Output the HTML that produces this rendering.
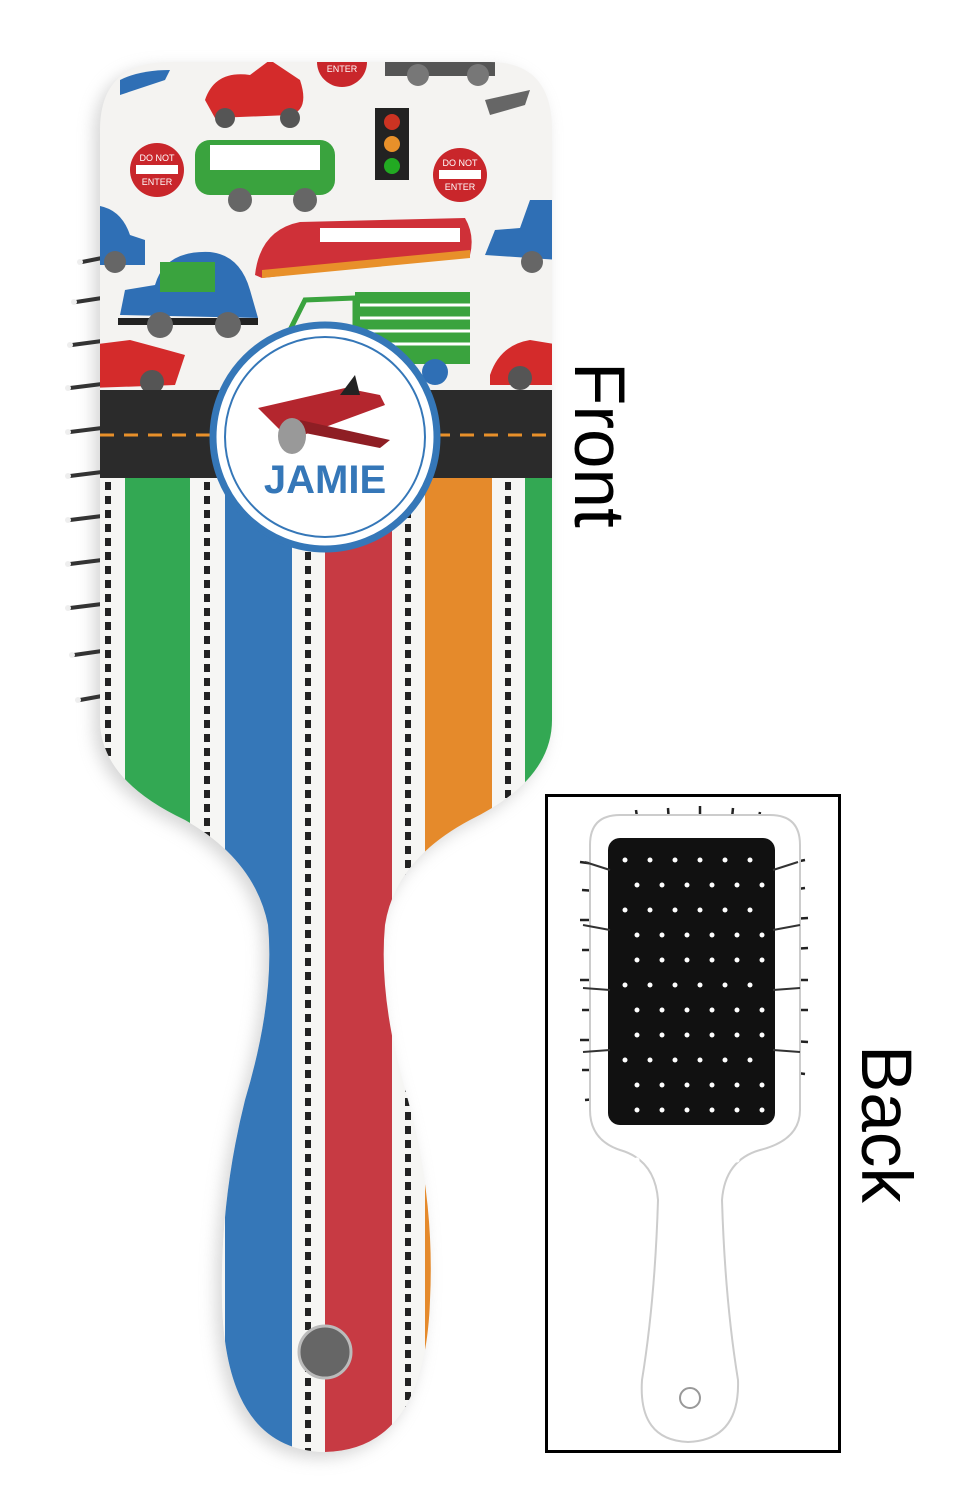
<!DOCTYPE html>
<html><head><meta charset="utf-8"><style>
html,body{margin:0;padding:0;background:#fff;}
svg{display:block;}
</style></head><body>
<svg width="975" height="1500" viewBox="0 0 975 1500" xmlns="http://www.w3.org/2000/svg">
<defs>
<clipPath id="fb"><path d="M100,130 Q100,62 170,62 L490,62 Q552,62 552,130 L552,720 Q552,780 470,820 Q395,860 385,925 Q378,1000 408,1100 Q435,1200 430,1300 Q425,1450 325,1452 Q225,1450 222,1300 Q220,1200 245,1100 Q275,1000 268,925 Q255,860 185,820 Q100,780 100,720 Z"/></clipPath>
<filter id="sh" x="-20%" y="-20%" width="140%" height="140%"><feGaussianBlur stdDeviation="8"/></filter>
</defs>
<path d="M100,130 Q100,62 170,62 L490,62 Q552,62 552,130 L552,720 Q552,780 470,820 Q395,860 385,925 Q378,1000 408,1100 Q435,1200 430,1300 Q425,1450 325,1452 Q225,1450 222,1300 Q220,1200 245,1100 Q275,1000 268,925 Q255,860 185,820 Q100,780 100,720 Z" fill="#bbb" opacity="0.6" filter="url(#sh)" transform="translate(-6,6)"/>
<g stroke="#333" stroke-width="4" stroke-linecap="round">
<line x1="82" y1="262" x2="102" y2="258"/><line x1="76" y1="302" x2="102" y2="298"/><line x1="72" y1="345" x2="102" y2="341"/><line x1="70" y1="388" x2="102" y2="384"/><line x1="70" y1="432" x2="102" y2="428"/><line x1="70" y1="476" x2="102" y2="472"/><line x1="70" y1="520" x2="102" y2="516"/><line x1="70" y1="564" x2="102" y2="560"/><line x1="70" y1="608" x2="102" y2="604"/><line x1="74" y1="655" x2="102" y2="651"/><line x1="80" y1="700" x2="102" y2="696"/>
</g>
<g fill="#eee"><circle cx="80" cy="262" r="3"/><circle cx="74" cy="302" r="3"/><circle cx="70" cy="345" r="3"/><circle cx="68" cy="388" r="3"/><circle cx="68" cy="432" r="3"/><circle cx="68" cy="476" r="3"/><circle cx="68" cy="520" r="3"/><circle cx="68" cy="564" r="3"/><circle cx="68" cy="608" r="3"/><circle cx="72" cy="655" r="3"/><circle cx="78" cy="700" r="3"/></g>
<g clip-path="url(#fb)">
<rect x="90" y="50" width="470" height="1410" fill="#f4f3f1"/>
<rect x="195" y="140" width="140" height="55" rx="15" fill="#3aa33e"/>
<rect x="210" y="145" width="110" height="25" fill="#fff"/>
<circle cx="240" cy="200" r="12" fill="#666"/><circle cx="305" cy="200" r="12" fill="#666"/>
<path d="M205,100 Q215,70 250,75 L270,60 L300,80 Q310,110 290,115 L215,118 Z" fill="#d42b2b"/>
<circle cx="225" cy="118" r="10" fill="#555"/><circle cx="290" cy="118" r="10" fill="#555"/>
<rect x="375" y="108" width="34" height="72" fill="#222"/>
<circle cx="392" cy="122" r="8" fill="#c32"/><circle cx="392" cy="144" r="8" fill="#e8902a"/><circle cx="392" cy="166" r="8" fill="#2a2"/>
<circle cx="157" cy="170" r="27" fill="#c9262b"/><rect x="136" y="165" width="42" height="9" fill="#fff"/>
<text x="157" y="161" font-family="Liberation Sans" font-size="9" fill="#fff" text-anchor="middle">DO NOT</text>
<text x="157" y="185" font-family="Liberation Sans" font-size="9" fill="#fff" text-anchor="middle">ENTER</text>
<circle cx="460" cy="175" r="27" fill="#c9262b"/><rect x="439" y="170" width="42" height="9" fill="#fff"/>
<text x="460" y="166" font-family="Liberation Sans" font-size="9" fill="#fff" text-anchor="middle">DO NOT</text>
<text x="460" y="190" font-family="Liberation Sans" font-size="9" fill="#fff" text-anchor="middle">ENTER</text>
<circle cx="342" cy="62" r="25" fill="#c9262b"/>
<text x="342" y="72" font-family="Liberation Sans" font-size="9" fill="#fff" text-anchor="middle">ENTER</text>
<rect x="385" y="62" width="110" height="14" fill="#555"/>
<circle cx="418" cy="75" r="11" fill="#777"/><circle cx="478" cy="75" r="11" fill="#777"/>
<path d="M255,275 Q260,230 300,222 L465,218 Q475,235 470,255 L262,278 Z" fill="#cf3038"/>
<rect x="320" y="228" width="140" height="14" fill="#fff"/>
<path d="M262,270 L470,250 L470,258 L262,278 Z" fill="#e8902a"/>
<path d="M120,315 L125,290 L155,285 Q165,250 210,252 Q240,255 250,290 L258,318 Z" fill="#2f6fb5"/>
<rect x="160" y="262" width="55" height="30" fill="#3aa33e"/>
<rect x="118" y="318" width="140" height="7" fill="#222"/>
<circle cx="160" cy="325" r="13" fill="#666"/><circle cx="228" cy="325" r="13" fill="#666"/>
<path d="M90,255 L90,205 Q120,205 130,235 L145,240 L145,265 L90,265 Z" fill="#2f6fb5"/>
<circle cx="115" cy="262" r="11" fill="#666"/>
<path d="M485,255 L495,230 L520,228 L530,200 L560,200 L560,260 Z" fill="#2f6fb5"/>
<circle cx="532" cy="262" r="11" fill="#666"/>
<rect x="355" y="292" width="115" height="72" fill="#3aa33e"/>
<g stroke="#fff" stroke-width="3"><line x1="360" y1="305" x2="470" y2="305"/><line x1="360" y1="318" x2="470" y2="318"/><line x1="360" y1="331" x2="470" y2="331"/><line x1="360" y1="344" x2="470" y2="344"/></g>
<path d="M290,330 L305,300 L355,298 L355,335 Z" fill="none" stroke="#3aa33e" stroke-width="5"/>
<circle cx="435" cy="372" r="13" fill="#2f6fb5"/>
<path d="M90,345 L130,340 Q160,348 185,355 L175,385 L90,388 Z" fill="#d42b2b"/>
<circle cx="152" cy="382" r="12" fill="#555"/>
<path d="M490,375 Q500,345 530,340 L560,345 L560,385 L490,385 Z" fill="#d42b2b"/>
<circle cx="520" cy="378" r="12" fill="#555"/>
<path d="M120,80 Q140,70 170,70 L165,80 L120,95 Z" fill="#2f6fb5"/>
<path d="M485,100 L530,90 L525,105 L490,115 Z" fill="#666"/>
<rect x="90" y="390" width="470" height="88" fill="#2b2b2b"/>
<line x1="100" y1="435" x2="552" y2="435" stroke="#e8902a" stroke-width="3" stroke-dasharray="14,10"/>
<rect x="90" y="478" width="470" height="990" fill="#f6f6f4"/>
<rect x="125" y="478" width="65" height="990" fill="#33a853"/>
<rect x="225" y="478" width="67" height="990" fill="#3577b8"/>
<rect x="325" y="478" width="67" height="990" fill="#c73a43"/>
<rect x="425" y="478" width="67" height="990" fill="#e58a2b"/>
<rect x="525" y="478" width="40" height="990" fill="#33a853"/>
<g stroke="#222" stroke-width="6" stroke-dasharray="8,6">
<line x1="207" y1="482" x2="207" y2="1460"/><line x1="308" y1="482" x2="308" y2="1460"/><line x1="408" y1="482" x2="408" y2="1460"/><line x1="508" y1="482" x2="508" y2="1460"/><line x1="108" y1="482" x2="108" y2="780"/>
</g>
<circle cx="325" cy="1352" r="26" fill="#666" stroke="#bbb" stroke-width="3"/>
</g>
<circle cx="325" cy="437" r="112" fill="#fff" stroke="#3577b8" stroke-width="7"/>
<circle cx="325" cy="437" r="100" fill="none" stroke="#3577b8" stroke-width="2"/>
<path d="M258,408 L345,388 L380,395 L385,405 L290,440 Z" fill="#b4262e"/>
<path d="M300,420 L390,440 L380,448 L300,432 Z" fill="#8e1e24"/>
<path d="M340,395 L355,375 L360,395 Z" fill="#222"/>
<ellipse cx="292" cy="436" rx="14" ry="18" fill="#999"/>
<text x="325" y="493" font-family="Liberation Sans" font-size="40" font-weight="bold" fill="#3577b8" text-anchor="middle">JAMIE</text>
<text transform="translate(575,362) rotate(90)" font-family="Liberation Sans" font-size="71" fill="#000">Front</text>
<rect x="546.5" y="795.5" width="293" height="656" fill="#fff" stroke="#000" stroke-width="3"/>
<g stroke="#222" stroke-width="2.5">
<line x1="580" y1="862" x2="610" y2="866"/><line x1="582" y1="890" x2="610" y2="892"/><line x1="580" y1="920" x2="610" y2="920"/><line x1="582" y1="950" x2="610" y2="950"/><line x1="580" y1="980" x2="610" y2="980"/><line x1="582" y1="1010" x2="610" y2="1010"/><line x1="580" y1="1040" x2="610" y2="1040"/><line x1="582" y1="1070" x2="610" y2="1070"/><line x1="585" y1="1100" x2="610" y2="1098"/>
<line x1="775" y1="866" x2="805" y2="860"/><line x1="775" y1="892" x2="805" y2="888"/><line x1="775" y1="920" x2="808" y2="918"/><line x1="775" y1="950" x2="808" y2="948"/><line x1="775" y1="980" x2="808" y2="980"/><line x1="775" y1="1010" x2="808" y2="1010"/><line x1="775" y1="1040" x2="808" y2="1042"/><line x1="775" y1="1070" x2="805" y2="1074"/><line x1="775" y1="1098" x2="800" y2="1104"/>
<line x1="640" y1="838" x2="636" y2="810"/><line x1="670" y1="838" x2="668" y2="808"/><line x1="700" y1="838" x2="700" y2="806"/><line x1="730" y1="838" x2="733" y2="808"/><line x1="755" y1="840" x2="760" y2="812"/>
</g>
<path d="M590,845 Q590,815 620,815 L770,815 Q800,815 800,845 L800,1110 Q800,1140 760,1150 Q725,1160 722,1200 Q725,1300 738,1380 Q740,1440 688,1442 Q638,1440 642,1380 Q655,1300 658,1200 Q655,1160 620,1150 Q590,1140 590,1110 Z" fill="#fff" stroke="#ccc" stroke-width="2"/>
<rect x="608" y="838" width="167" height="287" rx="12" fill="#111"/>
<g stroke="#333" stroke-width="2">
<line x1="610" y1="870" x2="585" y2="862"/><line x1="610" y1="930" x2="583" y2="925"/><line x1="610" y1="990" x2="583" y2="988"/><line x1="610" y1="1050" x2="583" y2="1052"/>
<line x1="773" y1="870" x2="798" y2="862"/><line x1="773" y1="930" x2="800" y2="925"/><line x1="773" y1="990" x2="800" y2="988"/><line x1="773" y1="1050" x2="800" y2="1052"/>
</g>
<g fill="#fff">
<circle cx="625" cy="860" r="2.5"/><circle cx="650" cy="860" r="2.5"/><circle cx="675" cy="860" r="2.5"/><circle cx="700" cy="860" r="2.5"/><circle cx="725" cy="860" r="2.5"/><circle cx="750" cy="860" r="2.5"/>
</g>
<g fill="#fff" id="dots">
<circle cx="637" cy="885" r="2.5"/><circle cx="662" cy="885" r="2.5"/><circle cx="687" cy="885" r="2.5"/><circle cx="712" cy="885" r="2.5"/><circle cx="737" cy="885" r="2.5"/><circle cx="762" cy="885" r="2.5"/>
<circle cx="625" cy="910" r="2.5"/><circle cx="650" cy="910" r="2.5"/><circle cx="675" cy="910" r="2.5"/><circle cx="700" cy="910" r="2.5"/><circle cx="725" cy="910" r="2.5"/><circle cx="750" cy="910" r="2.5"/>
<circle cx="637" cy="935" r="2.5"/><circle cx="662" cy="935" r="2.5"/><circle cx="687" cy="935" r="2.5"/><circle cx="712" cy="935" r="2.5"/><circle cx="737" cy="935" r="2.5"/><circle cx="762" cy="935" r="2.5"/>
</g>
<use href="#dots" y="75"/><use href="#dots" y="150"/><use href="#dots" y="225" clip-path="none"/>
<circle cx="690" cy="1398" r="10" fill="#fff" stroke="#999" stroke-width="2"/>
<text transform="translate(862,1045) rotate(90)" font-family="Liberation Sans" font-size="71" fill="#000">Back</text>
</svg>
</body></html>
